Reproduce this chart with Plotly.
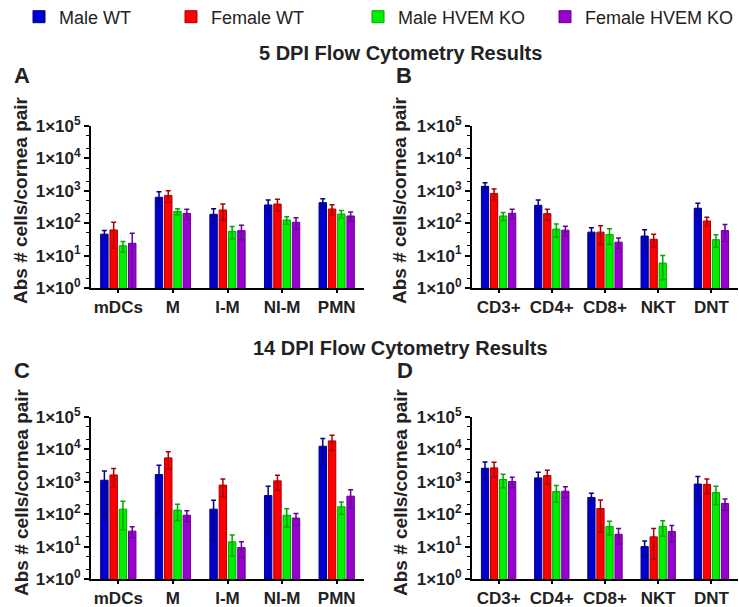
import plotly.graph_objects as go

groups = ["Male WT", "Female WT", "Male HVEM KO", "Female HVEM KO"]
fill_colors = ["#0000CD", "#FF0000", "#00EE00", "#9900CC"]
line_colors = ["#00008B", "#A80000", "#00A800", "#660099"]

myeloid_cats = ["mDCs", "M", "I-M", "NI-M", "PMN"]
lymphoid_cats = ["CD3+", "CD4+", "CD8+", "NKT", "DNT"]

# Panel A: 5 DPI myeloid
a_male_wt = [46, 630, 188, 365, 430]
a_female_wt = [62, 720, 256, 390, 275]
a_male_ko = [20, 230, 56, 126, 192]
a_female_ko = [24, 200, 59, 107, 167]
a_male_wt_err = [13, 300, 92, 155, 140]
a_female_wt_err = [45, 280, 134, 155, 97]
a_male_ko_err = [7, 50, 23, 33, 53]
a_female_ko_err = [25, 70, 28, 41, 55]

# Panel B: 5 DPI lymphoid
b_male_wt = [1370, 356, 53, 40, 290]
b_female_wt = [830, 197, 53, 32, 117]
b_male_ko = [167, 66, 45, 5.9, 31]
b_female_ko = [203, 61, 26, None, 59]
b_male_wt_err = [410, 164, 20, 23, 120]
b_female_wt_err = [300, 71, 31, 14, 35]
b_male_ko_err = [46, 29, 23, 4.1, 13]
b_female_ko_err = [65, 20, 9, None, 32]

# Panel C: 14 DPI myeloid
c_male_wt = [1120, 1670, 143, 377, 12500]
c_female_wt = [1630, 5470, 790, 1070, 18300]
c_male_ko = [143, 134, 14, 93, 170]
c_female_ko = [30, 93, 9.3, 76, 360]
c_male_wt_err = [1050, 1570, 127, 353, 9100]
c_female_wt_err = [930, 2930, 440, 520, 9100]
c_male_ko_err = [110, 70, 9, 53, 70]
c_female_ko_err = [11, 34, 4.7, 29, 205]

# Panel D: 14 DPI lymphoid
d_male_wt = [2620, 1320, 328, 10, 850]
d_female_wt = [2690, 1560, 150, 20, 830]
d_male_ko = [1180, 500, 42, 42, 465]
d_female_ko = [1020, 514, 24, 29.5, 215]
d_male_wt_err = [1480, 660, 118, 5, 600]
d_female_wt_err = [1310, 710, 122, 16, 400]
d_male_ko_err = [530, 265, 19, 21, 265]
d_female_ko_err = [370, 186, 12, 15.5, 82]

tick_vals = [1, 10, 100, 1000, 10000, 100000]
tick_text = ["1×10<sup>0</sup>", "1×10<sup>1</sup>", "1×10<sup>2</sup>",
             "1×10<sup>3</sup>", "1×10<sup>4</sup>", "1×10<sup>5</sup>"]

panels = [
    ("x", "y", myeloid_cats,
     [a_male_wt, a_female_wt, a_male_ko, a_female_ko],
     [a_male_wt_err, a_female_wt_err, a_male_ko_err, a_female_ko_err]),
    ("x2", "y2", lymphoid_cats,
     [b_male_wt, b_female_wt, b_male_ko, b_female_ko],
     [b_male_wt_err, b_female_wt_err, b_male_ko_err, b_female_ko_err]),
    ("x3", "y3", myeloid_cats,
     [c_male_wt, c_female_wt, c_male_ko, c_female_ko],
     [c_male_wt_err, c_female_wt_err, c_male_ko_err, c_female_ko_err]),
    ("x4", "y4", lymphoid_cats,
     [d_male_wt, d_female_wt, d_male_ko, d_female_ko],
     [d_male_wt_err, d_female_wt_err, d_male_ko_err, d_female_ko_err]),
]

legend_names = ["legend", "legend2", "legend3", "legend4"]

fig = go.Figure()
for p, (xa, ya, cats, vals, errs) in enumerate(panels):
    for g in range(4):
        fig.add_trace(go.Bar(
            x=cats, y=vals[g], name=groups[g],
            xaxis=xa, yaxis=ya,
            marker=dict(color=fill_colors[g], line=dict(color=line_colors[g], width=1)),
            error_y=dict(type="data", array=errs[g], visible=True,
                         color=line_colors[g], thickness=1.5, width=2.5),
            showlegend=(p == 0), legend=legend_names[g],
            offsetgroup=str(g),
        ))

H = 607.0
W = 739.0
def py(px):
    return 1 - px / H
def pxx(px):
    return px / W

font_family = "Liberation Sans, Arial, sans-serif"

def yaxis_cfg(top, bottom, anchor):
    return dict(
        type="log", range=[0, 5], domain=[py(bottom), py(top)], anchor=anchor,
        automargin=False,
        tickvals=tick_vals, ticktext=tick_text,
        tickfont=dict(size=17, family=font_family, color="#222", weight="bold"),
        showline=True, linewidth=2, linecolor="black",
        ticks="outside", ticklen=5, tickwidth=1.5, tickcolor="black",
        minor=dict(ticks="outside", ticklen=3, tickwidth=1, tickcolor="black", showgrid=False),
        showgrid=False, zeroline=False,
    )

def xaxis_cfg(left, right, anchor):
    return dict(
        domain=[pxx(left), pxx(right)], anchor=anchor,
        automargin=False,
        tickfont=dict(size=17, family=font_family, color="#222", weight="bold"),
        showline=True, linewidth=2, linecolor="black",
        ticks="outside", ticklen=3, tickwidth=1.5, tickcolor="black",
        showgrid=False, zeroline=False,
    )

fig.update_layout(
    width=739, height=607,
    margin=dict(l=0, r=0, t=0, b=0, autoexpand=False),
    paper_bgcolor="white", plot_bgcolor="white",
    barmode="group", bargap=0.32, bargroupgap=0.2,
    font=dict(family=font_family, color="#222"),
    xaxis=xaxis_cfg(91, 364, "y"),
    yaxis=yaxis_cfg(126, 288, "x"),
    xaxis2=xaxis_cfg(472, 738, "y2"),
    yaxis2=yaxis_cfg(126, 288, "x2"),
    xaxis3=xaxis_cfg(91, 364, "y3"),
    yaxis3=yaxis_cfg(417, 579, "x3"),
    xaxis4=xaxis_cfg(472, 738, "y4"),
    yaxis4=yaxis_cfg(417, 579, "x4"),
)

legend_pos = [(19, "left"), (171, "left"), (358, "left"), (739, "right")]
for i, ln in enumerate(legend_names):
    lx, anchor = legend_pos[i]
    fig.update_layout({ln: dict(
        x=pxx(lx), y=py(17), xanchor=anchor, yanchor="middle",
        orientation="h", bgcolor="rgba(0,0,0,0)",
        font=dict(size=18, family=font_family, color="#222"),
    )})

annotations = []
for text, y in [("5 DPI Flow Cytometry Results", 53), ("14 DPI Flow Cytometry Results", 348)]:
    annotations.append(dict(text=text, x=pxx(400), y=py(y), xref="paper", yref="paper",
                            showarrow=False, xanchor="center", yanchor="middle",
                            font=dict(size=20, family=font_family, color="#222", weight="bold")))
for text, x, y in [("A", 22, 75), ("B", 404, 75), ("C", 22, 370), ("D", 405, 370)]:
    annotations.append(dict(text=text, x=pxx(x), y=py(y), xref="paper", yref="paper",
                            showarrow=False, xanchor="center", yanchor="middle",
                            font=dict(size=22, family=font_family, color="#222", weight="bold")))
for x, y in [(21, 200), (400, 200), (21, 492), (400, 492)]:
    annotations.append(dict(text="Abs # cells/cornea pair", x=pxx(x), y=py(y),
                            xref="paper", yref="paper", showarrow=False, textangle=-90,
                            xanchor="center", yanchor="middle",
                            font=dict(size=19, family=font_family, color="#222", weight="bold")))
fig.update_layout(annotations=annotations)

fig.write_html("out.html", config={"displayModeBar": False},
               post_script="document.body.style.margin='0';document.body.style.overflow='hidden';")
